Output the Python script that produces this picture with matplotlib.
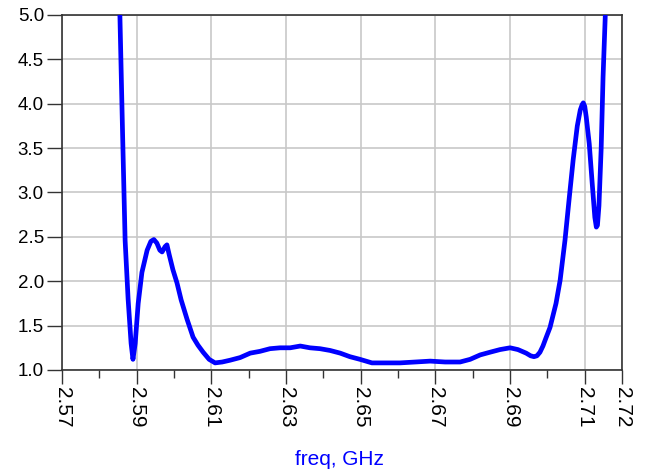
import numpy as np
import matplotlib
matplotlib.use('Agg')
import matplotlib.pyplot as plt
from matplotlib.ticker import FixedLocator

# freq (GHz) and value
freq = [2.5848, 2.5855, 2.5862, 2.5869, 2.5877, 2.5885, 2.5890, 2.5896, 2.5904, 2.5914, 2.5928,
        2.5938, 2.5946, 2.5954, 2.5962, 2.5968, 2.5976, 2.5981, 2.5987, 2.5997, 2.6008,
        2.6019, 2.6035, 2.6051, 2.6064, 2.6078, 2.6094, 2.6110, 2.6129, 2.6150, 2.6177,
        2.6204, 2.6230, 2.6257, 2.6284, 2.6311, 2.6338, 2.6364, 2.6391, 2.6418, 2.6445,
        2.6471, 2.6498, 2.6530, 2.6565, 2.6605, 2.6646, 2.6686, 2.6726, 2.6766, 2.6793,
        2.6820, 2.6846, 2.6873, 2.6900, 2.6921, 2.6943, 2.6955, 2.6964, 2.6972, 2.6980,
        2.6988, 2.6996, 2.7007, 2.7023, 2.7034, 2.7047, 2.7058, 2.7069, 2.7080, 2.7088,
        2.7093, 2.7096, 2.7100, 2.7104, 2.7112, 2.7120, 2.7127, 2.7131, 2.7134, 2.7138,
        2.7144, 2.7149, 2.7155, 2.7158]
vals = [5.40, 5.00, 3.70, 2.46, 1.80, 1.30, 1.12, 1.30, 1.75, 2.10, 2.35,
        2.45, 2.47, 2.43, 2.35, 2.33, 2.39, 2.41, 2.30, 2.13, 1.98,
        1.79, 1.57, 1.37, 1.28, 1.20, 1.12, 1.08, 1.09, 1.11, 1.14,
        1.19, 1.21, 1.24, 1.25, 1.25, 1.27, 1.25, 1.24, 1.22, 1.19,
        1.15, 1.12, 1.08, 1.08, 1.08, 1.09, 1.10, 1.09, 1.09, 1.12,
        1.17, 1.20, 1.23, 1.25, 1.23, 1.19, 1.16, 1.15, 1.16, 1.20,
        1.27, 1.36, 1.48, 1.75, 2.01, 2.46, 2.92, 3.37, 3.75, 3.93,
        3.99, 4.01, 3.97, 3.85, 3.55, 3.10, 2.72, 2.61, 2.63, 2.85,
        3.50, 4.30, 5.00, 5.40]

x_major = [2.57, 2.59, 2.61, 2.63, 2.65, 2.67, 2.69, 2.71, 2.72]
x_minor = [2.58, 2.60, 2.62, 2.64, 2.66, 2.68, 2.70]
y_ticks = [1.0, 1.5, 2.0, 2.5, 3.0, 3.5, 4.0, 4.5, 5.0]

plt.rcParams['font.family'] = ['Liberation Sans', 'DejaVu Sans']

fig = plt.figure(figsize=(6.46, 4.76), dpi=100)
ax = fig.add_axes([0.096, 0.2227, 0.867, 0.7458])

ax.plot(freq, vals, color='#0000FF', lw=3.4, solid_joinstyle='round', solid_capstyle='round', zorder=3)

ax.set_xlim(2.57, 2.72)
ax.set_ylim(1.0, 5.0)
ax.xaxis.set_major_locator(FixedLocator(x_major))
ax.xaxis.set_minor_locator(FixedLocator(x_minor))
ax.set_xticklabels([f'{v:.2f}' for v in x_major], rotation=270, fontsize=15)
ax.set_yticks(y_ticks)
ax.set_yticklabels([f'{v:.1f}' for v in y_ticks], fontsize=13.5)

ax.tick_params(axis='x', which='major', length=10, width=1, color='#333333', pad=2)
ax.tick_params(axis='x', which='minor', length=6, width=1, color='#333333')
ax.tick_params(axis='y', which='major', length=11, width=1, color='#333333', pad=2)

ax.grid(True, which='major', color='#c8c8c8', lw=1.2, zorder=0)
for s in ax.spines.values():
    s.set_color('#333333')
    s.set_linewidth(1.2)

fig.text(0.526, 0.035, 'freq, GHz', color='#0000FF', fontsize=15, ha='center', va='center')

fig.savefig('out.png', dpi=100)
